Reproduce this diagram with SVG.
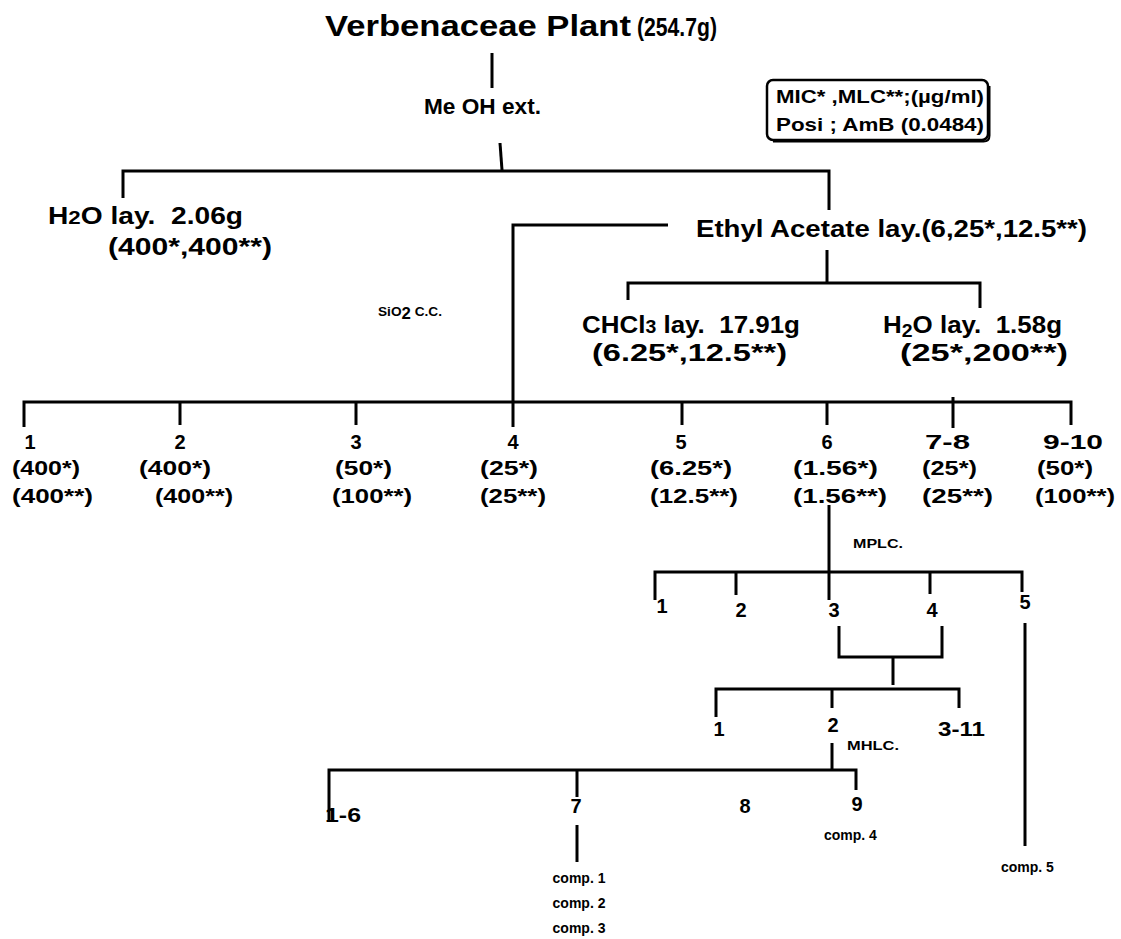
<svg xmlns="http://www.w3.org/2000/svg" width="1121" height="939" viewBox="0 0 1121 939">
<style>
.t{font-family:"Liberation Sans",Arial,Helvetica,sans-serif;font-weight:bold;fill:#000}
.c{text-anchor:middle}
.l{stroke:#000;stroke-width:3;fill:none;stroke-linecap:butt;stroke-linejoin:miter}
</style>
<rect width="1121" height="939" fill="#fff"/>
<g id="connectors" class="l">
<path d="M492 53V88"/>
<path d="M500 143L502 170"/>
<path d="M123 198V171H829V210"/>
<path d="M513 402V225H668"/>
<path d="M827 250V283"/>
<path d="M628 300V283H980V308"/>
<path d="M24 427V402H1071V425"/>
<path d="M180 402V425M356 402V425M513 402V427M682 402V425M827 402V425M953 397V428"/>
<path d="M829 505V600"/>
<path d="M655 600V572H1022V592M736 572V595M930 572V594"/>
<path d="M839 626V657H942V626M893 657V685"/>
<path d="M716 717V689H959V708M832 689V708"/>
<path d="M832 743V770"/>
<path d="M329 822V770H856V790M577 770V797"/>
<path d="M577 825V862"/>
<path d="M1025 623V846"/>
</g>
<g id="title">
<text class="t" x="325" y="36" font-size="30" textLength="306" lengthAdjust="spacingAndGlyphs">Verbenaceae Plant</text>
<text class="t" x="637" y="36" font-size="25" textLength="80" lengthAdjust="spacingAndGlyphs">(254.7g)</text>
</g>
<g id="meoh">
<text class="t" x="424" y="114" font-size="22" textLength="117" lengthAdjust="spacingAndGlyphs">Me OH ext.</text>
</g>
<g id="legend">
<rect x="767" y="80" width="221" height="60" rx="6" fill="none" stroke="#000" stroke-width="2.5"/>
<path d="M989.5 86V135.5Q989.5 141.5 983.5 141.5H773" fill="none" stroke="#000" stroke-width="2"/>
<text class="t" x="776" y="103" font-size="19" textLength="208" lengthAdjust="spacingAndGlyphs">MIC* ,MLC**;(µg/ml)</text>
<text class="t" x="776" y="131" font-size="19" textLength="208" lengthAdjust="spacingAndGlyphs">Posi ; AmB (0.0484)</text>
</g>
<g id="h2o-layer-1">
<text class="t" x="48" y="224" font-size="24" textLength="195" lengthAdjust="spacingAndGlyphs" xml:space="preserve">H<tspan font-size="19">2</tspan>O lay.  2.06g</text>
<text class="t" x="108" y="255" font-size="24" textLength="164" lengthAdjust="spacingAndGlyphs">(400*,400**)</text>
</g>
<g id="ethyl-acetate">
<text class="t" x="696" y="237" font-size="24" textLength="391" lengthAdjust="spacingAndGlyphs">Ethyl Acetate lay.(6,25*,12.5**)</text>
</g>
<g id="sio2">
<text class="t" x="378" y="316" font-size="13" textLength="64" lengthAdjust="spacingAndGlyphs">SiO<tspan font-size="16" dy="3">2</tspan><tspan dy="-3"> C.C.</tspan></text>
</g>
<g id="chcl3-layer">
<text class="t" x="582" y="333" font-size="24" textLength="218" lengthAdjust="spacingAndGlyphs" xml:space="preserve">CHCl<tspan font-size="18">3</tspan> lay.  17.91g</text>
<text class="t" x="592" y="361" font-size="24" textLength="195" lengthAdjust="spacingAndGlyphs">(6.25*,12.5**)</text>
</g>
<g id="h2o-layer-2">
<text class="t" x="883" y="333" font-size="24" textLength="179" lengthAdjust="spacingAndGlyphs" xml:space="preserve">H<tspan font-size="18" dy="4">2</tspan><tspan dy="-4">O lay.  1.58g</tspan></text>
<text class="t" x="900" y="361" font-size="24" textLength="168" lengthAdjust="spacingAndGlyphs">(25*,200**)</text>
</g>
<g id="fr1"><text class="t c" x="30" y="449" font-size="20">1</text><text class="t" x="12" y="475" font-size="20" textLength="68" lengthAdjust="spacingAndGlyphs">(400*)</text><text class="t" x="12" y="503" font-size="20" textLength="81" lengthAdjust="spacingAndGlyphs">(400**)</text></g>
<g id="fr2"><text class="t c" x="180" y="449" font-size="20">2</text><text class="t" x="139" y="475" font-size="20" textLength="72" lengthAdjust="spacingAndGlyphs">(400*)</text><text class="t" x="155" y="503" font-size="20" textLength="78" lengthAdjust="spacingAndGlyphs">(400**)</text></g>
<g id="fr3"><text class="t c" x="356" y="449" font-size="20">3</text><text class="t" x="335" y="475" font-size="20" textLength="57" lengthAdjust="spacingAndGlyphs">(50*)</text><text class="t" x="332" y="503" font-size="20" textLength="80" lengthAdjust="spacingAndGlyphs">(100**)</text></g>
<g id="fr4"><text class="t c" x="513" y="449" font-size="20">4</text><text class="t" x="480" y="475" font-size="20" textLength="58" lengthAdjust="spacingAndGlyphs">(25*)</text><text class="t" x="480" y="503" font-size="20" textLength="66" lengthAdjust="spacingAndGlyphs">(25**)</text></g>
<g id="fr5"><text class="t c" x="681" y="449" font-size="20">5</text><text class="t" x="650" y="475" font-size="20" textLength="82" lengthAdjust="spacingAndGlyphs">(6.25*)</text><text class="t" x="650" y="503" font-size="20" textLength="88" lengthAdjust="spacingAndGlyphs">(12.5**)</text></g>
<g id="fr6"><text class="t c" x="827" y="449" font-size="20">6</text><text class="t" x="793" y="475" font-size="20" textLength="85" lengthAdjust="spacingAndGlyphs">(1.56*)</text><text class="t" x="793" y="503" font-size="20" textLength="94" lengthAdjust="spacingAndGlyphs">(1.56**)</text></g>
<g id="fr7-8"><text class="t" x="925" y="449" font-size="20" textLength="45" lengthAdjust="spacingAndGlyphs">7-8</text><text class="t" x="922" y="475" font-size="20" textLength="55" lengthAdjust="spacingAndGlyphs">(25*)</text><text class="t" x="922" y="503" font-size="20" textLength="71" lengthAdjust="spacingAndGlyphs">(25**)</text></g>
<g id="fr9-10"><text class="t" x="1043" y="449" font-size="20" textLength="60" lengthAdjust="spacingAndGlyphs">9-10</text><text class="t" x="1037" y="475" font-size="20" textLength="56" lengthAdjust="spacingAndGlyphs">(50*)</text><text class="t" x="1035" y="503" font-size="20" textLength="80" lengthAdjust="spacingAndGlyphs">(100**)</text></g>
<g id="mplc-label"><text class="t" x="853" y="548" font-size="13" textLength="50" lengthAdjust="spacingAndGlyphs">MPLC.</text></g>
<g id="m1"><text class="t c" x="662" y="613" font-size="20">1</text></g>
<g id="m2"><text class="t c" x="741" y="617" font-size="20">2</text></g>
<g id="m3"><text class="t c" x="834" y="617" font-size="20">3</text></g>
<g id="m4"><text class="t c" x="932" y="617" font-size="20">4</text></g>
<g id="m5"><text class="t c" x="1025" y="609" font-size="20">5</text></g>
<g id="s1"><text class="t c" x="719" y="736" font-size="20">1</text></g>
<g id="s2"><text class="t c" x="833" y="732" font-size="20">2</text></g>
<g id="s3-11"><text class="t" x="938" y="736" font-size="20" textLength="47" lengthAdjust="spacingAndGlyphs">3-11</text></g>
<g id="mhlc-label"><text class="t" x="847" y="750" font-size="13" textLength="52" lengthAdjust="spacingAndGlyphs">MHLC.</text></g>
<g id="h1-6"><text class="t" x="325" y="822" font-size="20" textLength="36" lengthAdjust="spacingAndGlyphs">1-6</text></g>
<g id="h7"><text class="t c" x="576" y="813" font-size="20">7</text></g>
<g id="h8"><text class="t c" x="745" y="813" font-size="20">8</text></g>
<g id="h9"><text class="t c" x="857" y="811" font-size="20">9</text></g>
<g id="comp1-3">
<text class="t c" x="579" y="883" font-size="14">comp. 1</text>
<text class="t c" x="579" y="908" font-size="14">comp. 2</text>
<text class="t c" x="579" y="933" font-size="14">comp. 3</text>
</g>
<g id="comp4"><text class="t" x="824" y="840" font-size="14">comp. 4</text></g>
<g id="comp5"><text class="t" x="1001" y="872" font-size="14">comp. 5</text></g>
</svg>
